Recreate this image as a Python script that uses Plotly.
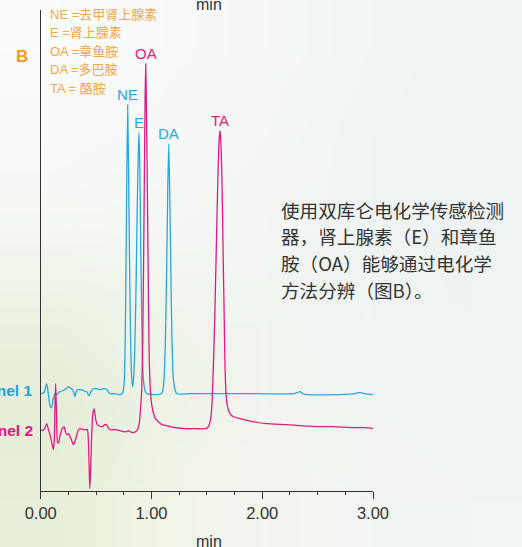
import base64
import struct
import zlib

import numpy as np
import plotly.graph_objects as go

# ---- chromatogram data (time in min, detector signal in arbitrary units) ----
ch1_time = [0.00, 0.030, 0.054, 0.070, 0.084, 0.098, 0.111, 0.129, 0.144, 0.161,
            0.174, 0.197, 0.219, 0.249, 0.265, 0.280, 0.296, 0.310, 0.320, 0.330,
            0.355, 0.391, 0.415, 0.436, 0.454, 0.475, 0.506, 0.535, 0.565, 0.590,
            0.610, 0.626, 0.671, 0.716,
            0.734, 0.746, 0.755, 0.763, 0.770, 0.777, 0.785, 0.793, 0.802, 0.811,
            0.820, 0.829,
            0.838, 0.849, 0.861, 0.872, 0.881, 0.887, 0.895, 0.904, 0.915, 0.926,
            0.942, 0.960, 1.032, 1.086,
            1.100, 1.113, 1.125, 1.136, 1.147, 1.156, 1.164, 1.175, 1.185, 1.197,
            1.212, 1.230, 1.348, 1.709, 1.980, 2.287, 2.314, 2.341, 2.368, 2.404,
            2.702, 2.838, 2.865, 2.892, 2.928, 3.000]
ch1_signal = [97, 98, 107, 96, 85, 83, 91, 97, 96, 98,
              99, 100, 101, 104, 103, 102, 99, 94, 99, 101,
              101, 100, 99, 95, 99, 102, 102, 101, 102, 102,
              99, 97, 97, 96,
              97, 100, 111, 151, 221, 311, 386, 321, 231, 156,
              116, 104,
              111, 141, 206, 286, 336, 358, 326, 236, 156, 113,
              100, 97, 96, 97,
              99, 111, 146, 211, 301, 347, 306, 221, 151, 113,
              101, 97, 97, 97, 97, 97, 98, 99, 97, 96,
              96, 97, 98, 98, 97, 96]

ch2_time = [0.00, 0.030, 0.054, 0.070, 0.084, 0.098, 0.114, 0.123, 0.129, 0.135,
            0.143, 0.152, 0.161, 0.174, 0.190, 0.210, 0.224, 0.235, 0.251, 0.265,
            0.280, 0.294, 0.305, 0.319, 0.337, 0.355, 0.391, 0.421, 0.430, 0.438,
            0.443, 0.451, 0.459, 0.470, 0.481, 0.490, 0.506, 0.526, 0.553, 0.580,
            0.596, 0.608, 0.626, 0.671, 0.716, 0.752, 0.776, 0.791, 0.806, 0.836,
            0.867, 0.881, 0.892, 0.901,
            0.912, 0.921, 0.930, 0.938, 0.943, 0.948, 0.953, 0.961, 0.970, 0.980,
            0.993, 1.005, 1.017, 1.036, 1.062, 1.095, 1.137, 1.167, 1.212, 1.303,
            1.393, 1.483, 1.506,
            1.522, 1.536, 1.546, 1.558, 1.571, 1.583, 1.595, 1.607, 1.614, 1.619,
            1.625, 1.634, 1.641, 1.649, 1.657, 1.664, 1.671, 1.679, 1.691, 1.709,
            1.739, 1.799, 1.919, 2.040, 2.221, 2.341, 2.522, 2.639, 2.822, 2.928,
            3.000]
ch2_signal = [60, 61, 67, 61, 56, 49, 41, 51, 86, 107,
              76, 48, 48, 55, 61, 64, 59, 56, 57, 54,
              50, 46, 48, 53, 60, 62, 61, 61, 51, 21,
              2, 21, 51, 76, 82, 76, 67, 65, 64, 66,
              66, 63, 61, 61, 60, 59, 59, 60, 59, 58,
              60, 63, 69, 81,
              101, 151, 241, 341, 396, 427, 396, 321, 221, 131,
              96, 84, 78, 72, 69, 66, 65, 64, 63, 62,
              62, 62, 63,
              66, 73, 86, 121, 171, 231, 291, 341, 356, 360,
              351, 324, 281, 224, 171, 124, 101, 89, 82, 77,
              74, 72, 69, 67, 66, 65, 64, 64, 63, 63,
              62]

peak_names = ["NE", "E", "OA", "DA", "TA"]
peak_times = [0.785, 0.887, 0.948, 1.156, 1.619]
peak_channel = [1, 1, 2, 1, 2]

x_tick_values = [0, 1, 2, 3]
x_tick_labels = ["0.00", "1.00", "2.00", "3.00"]

legend_lines = ["NE =去甲肾上腺素", "E =肾上腺素", "OA =章鱼胺", "DA =多巴胺", "TA = 酪胺"]
note_lines = ["使用双库仑电化学传感检测",
              "器，肾上腺素（E）和章鱼",
              "胺（OA）能够通过电化学",
              "方法分辨（图B）。"]
channel_names = ["Channel 1", "Channel 2"]

# ---- styling ----
W, H = 522, 547
BLUE = "#27A7E0"
PINK = "#E3197F"
BLUE_TXT = "#1C9FDC"
PINK_TXT = "#E2127E"
ORANGE = "#F4A64A"
ORANGE_B = "#F39A1E"
AXIS = "#333333"
SANS = "Liberation Sans, Arial, Noto Sans CJK SC, sans-serif"
CJK = "Noto Sans CJK SC, sans-serif"

# soft page backdrop colours (rows top -> bottom)
BACKDROP = [
    [(251, 252, 252), (249, 250, 250), (246, 248, 248), (241, 245, 246), (238, 243, 244)],
    [(249, 251, 250), (247, 249, 248), (244, 247, 246), (240, 244, 245), (238, 243, 244)],
    [(244, 248, 241), (244, 247, 243), (243, 246, 243), (240, 244, 243), (238, 243, 243)],
    [(235, 242, 226), (240, 245, 235), (241, 245, 239), (240, 244, 242), (239, 244, 243)],
    [(229, 238, 216), (238, 243, 230), (241, 245, 237), (241, 245, 241), (240, 244, 242)],
    [(232, 240, 218), (240, 245, 232), (243, 246, 239), (242, 245, 242), (241, 245, 243)],
]


def png_uri(rows):
    h, w = len(rows), len(rows[0])
    raw = b"".join(b"\x00" + bytes(c for px in row for c in px) for row in rows)

    def chunk(tag, data):
        return (struct.pack(">I", len(data)) + tag + data
                + struct.pack(">I", zlib.crc32(tag + data) & 0xFFFFFFFF))

    png = (b"\x89PNG\r\n\x1a\n"
           + chunk(b"IHDR", struct.pack(">IIBBBBB", w, h, 8, 2, 0, 0, 0))
           + chunk(b"IDAT", zlib.compress(raw))
           + chunk(b"IEND", b""))
    return "data:image/png;base64," + base64.b64encode(png).decode()


def px(x):
    return x / W


def py(y):
    return 1 - y / H


fig = go.Figure()
fig.add_trace(go.Scatter(x=ch1_time, y=ch1_signal, mode="lines",
                         line=dict(color=BLUE, width=1.3, shape="spline", smoothing=0.5),
                         name=channel_names[0], showlegend=False))
fig.add_trace(go.Scatter(x=ch2_time, y=ch2_signal, mode="lines",
                         line=dict(color=PINK, width=1.3, shape="spline", smoothing=0.5),
                         name=channel_names[1], showlegend=False))

annotations = []

# peak labels above each peak
for name, t, ch in zip(peak_names, peak_times, peak_channel):
    xs, ys = (ch1_time, ch1_signal) if ch == 1 else (ch2_time, ch2_signal)
    top = float(np.interp(t, xs, ys))
    annotations.append(dict(x=t, y=top, xref="x", yref="y", text=name, showarrow=False,
                            xanchor="center", yanchor="middle", yshift=10,
                            font=dict(family=SANS, size=15,
                                      color=BLUE if ch == 1 else PINK)))

# compound key
for i, line in enumerate(legend_lines):
    annotations.append(dict(x=px(48), y=py(14 + i * 18.6), xref="paper", yref="paper",
                            text=line, showarrow=False, xanchor="left", yanchor="middle",
                            font=dict(family=SANS, size=13, color=ORANGE)))

annotations.append(dict(x=px(21.7), y=py(56), xref="paper", yref="paper",
                        text="<b>B</b>", showarrow=False, xanchor="center", yanchor="middle",
                        font=dict(family=SANS, size=17, color=ORANGE_B)))

# channel names at the left edge
for name, yy, col, xr in zip(channel_names, [390, 430], [BLUE_TXT, PINK_TXT], [33.5, 35]):
    annotations.append(dict(x=px(xr), y=py(yy), xref="paper", yref="paper",
                            text="<b>" + name + "</b>", showarrow=False,
                            xanchor="right", yanchor="middle",
                            font=dict(family=SANS, size=15.5, color=col)))

# descriptive note
for i, line in enumerate(note_lines):
    annotations.append(dict(x=px(279), y=py(209 + i * 26.7), xref="paper", yref="paper",
                            text=line, showarrow=False, xanchor="left", yanchor="middle",
                            font=dict(family=CJK, size=18.6, color="#333333")))

# axis unit labels
for yy in [5, 541]:
    annotations.append(dict(x=px(209), y=py(yy), xref="paper", yref="paper",
                            text="min", showarrow=False, xanchor="center", yanchor="middle",
                            font=dict(family=SANS, size=16, color=AXIS)))

fig.update_layout(
    width=W, height=H, autosize=False,
    margin=dict(l=0, r=0, t=0, b=0),
    paper_bgcolor="white",
    plot_bgcolor="rgba(0,0,0,0)",
    showlegend=False,
    annotations=annotations,
    images=[dict(source=png_uri(BACKDROP), xref="paper", yref="paper", x=0, y=1,
                 sizex=1, sizey=1, xanchor="left", yanchor="top",
                 sizing="stretch", layer="below")],
    xaxis=dict(domain=[40.7 / W, 373 / W], range=[0, 3], automargin=False,
               showline=True, linecolor=AXIS, linewidth=1,
               showgrid=False, zeroline=False,
               tickmode="array", tickvals=x_tick_values, ticktext=x_tick_labels,
               ticks="outside", ticklen=7, tickwidth=1, tickcolor=AXIS,
               tickfont=dict(family=SANS, size=16.5, color=AXIS),
               minor=dict(dtick=0.25, tick0=0, ticks="outside", ticklen=3,
                          tickwidth=1, tickcolor=AXIS, showgrid=False)),
    yaxis=dict(domain=[1 - 490.7 / H, 1 - 9.8 / H], range=[0, 481], automargin=False,
               showline=True, linecolor=AXIS, linewidth=1,
               showgrid=False, zeroline=False, showticklabels=False, ticks=""),
)

fig.write_html("out.html")
